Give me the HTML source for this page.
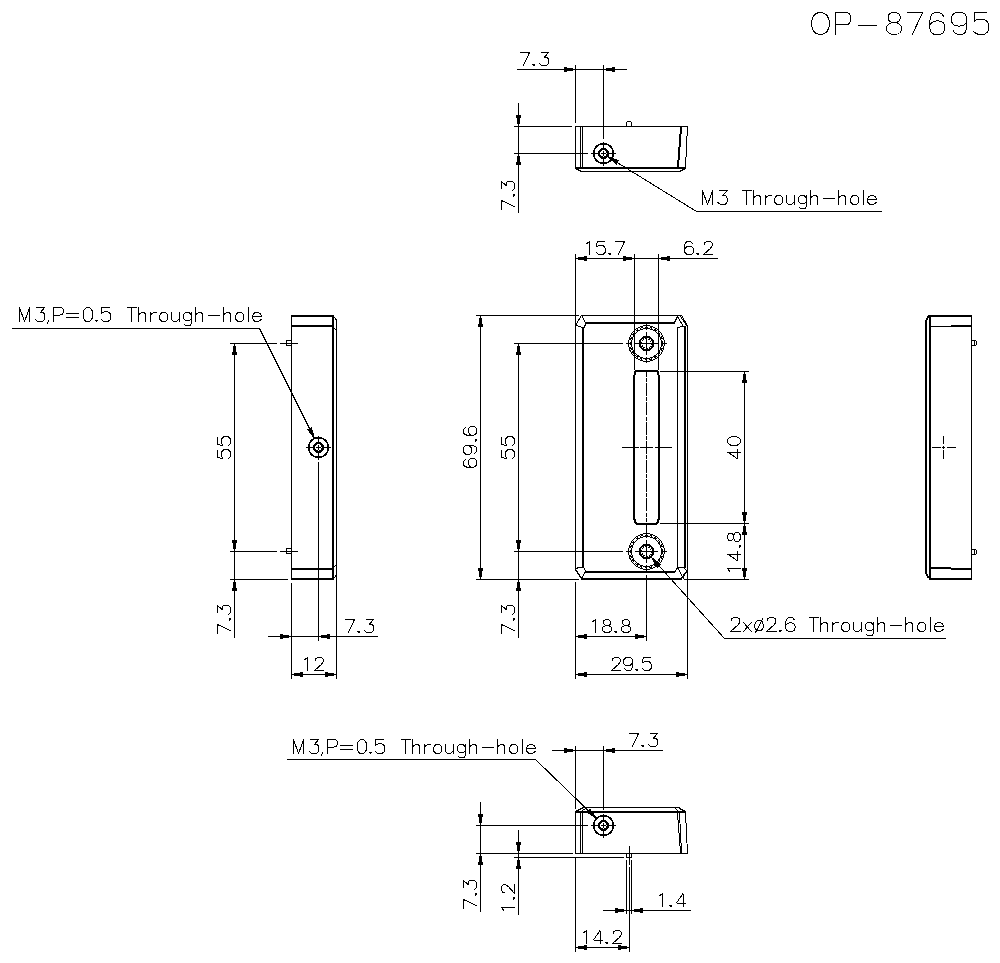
<!DOCTYPE html>
<html><head><meta charset="utf-8"><title>OP-87695</title>
<style>
html,body{margin:0;padding:0;background:#fff;width:1000px;height:963px;overflow:hidden;font-family:"Liberation Sans",sans-serif;}
svg{display:block;}
.f{fill:#000;stroke:none;}
</style></head>
<body>
<svg width="1000" height="963" viewBox="0 0 1000 963" shape-rendering="crispEdges">
<rect width="1000" height="963" fill="#fff"/>
<g fill="#000" stroke="#000" stroke-linecap="butt" stroke-linejoin="miter">
<g stroke="none">
</g>
</g>
<g fill="none" stroke="#000" stroke-width="1" stroke-linecap="round" stroke-linejoin="round" vector-effect="non-scaling-stroke">
<path d="M5.3,0 C8.8,0 10.6,3 10.6,6.5 C10.6,10 8.8,13 5.3,13 C1.8,13 0,10 0,6.5 C0,3 1.8,0 5.3,0 Z" transform="translate(811.50,12.50) scale(1.6923)" vector-effect="non-scaling-stroke"/>
<path d="M0,13 L0,0 L5.8,0 C8,0 9.1,1.3 9.1,3.6 C9.1,5.9 8,7.3 5.8,7.3 L0,7.3" transform="translate(835.50,12.50) scale(1.6923)" vector-effect="non-scaling-stroke"/>
<path d="M0.5,7.5 L11.5,7.5" transform="translate(857.50,12.50) scale(1.6923)" vector-effect="non-scaling-stroke"/>
<path d="M4.5,0 C6.7,0 8.1,1.2 8.1,3 C8.1,4.8 6.7,6 4.5,6 C2.3,6 0.9,4.8 0.9,3 C0.9,1.2 2.3,0 4.5,0 Z M4.5,6 C7.2,6 9,7.4 9,9.5 C9,11.6 7.2,13 4.5,13 C1.8,13 0,11.6 0,9.5 C0,7.4 1.8,6 4.5,6 Z" transform="translate(886.50,12.50) scale(1.6923)" vector-effect="non-scaling-stroke"/>
<path d="M0,0 L9,0 L2.8,13" transform="translate(907.50,12.50) scale(1.6923)" vector-effect="non-scaling-stroke"/>
<path d="M8.2,2.2 C7.6,0.7 6.6,0 4.8,0 L3.8,0 C1.5,0 0.2,2 0.2,5.5 L0.2,9 C0.2,11.6 1.8,13 4.3,13 L5.1,13 C7.7,13 9,11.4 9,9 C9,6.6 7.6,5 5.3,5 L4.3,5 C2.2,5 0.8,6 0.2,7.8" transform="translate(929.50,12.50) scale(1.6923)" vector-effect="non-scaling-stroke"/>
<path d="M1.2,10.8 C1.8,12.3 2.8,13 4.5,13 L5.6,13 C7.8,13 9,11 9,7.5 L9,4 C9,1.4 7.5,0 5.1,0 L4.1,0 C1.5,0 0,1.6 0,4 C0,6.4 1.5,8 3.9,8 L5,8 C7,8 8.5,7 9,5.2" transform="translate(951.50,12.50) scale(1.6923)" vector-effect="non-scaling-stroke"/>
<path d="M7.8,0 L0.6,0 L0.3,5.6 M0.6,4.8 C1.8,4.2 3,4 4.6,4 C7.6,4 9,5.8 9,8.5 C9,11.3 7.4,13 4.8,13 L4,13 C2.2,13 1,12.4 0.2,11.3" transform="translate(973.50,12.50) scale(1.6923)" vector-effect="non-scaling-stroke"/>
<rect x="517" y="69" width="110" height="1" class="f"/>
<rect x="564" y="67" width="3" height="5" class="f"/>
<rect x="567" y="68" width="6" height="3" class="f"/>
<rect x="612" y="67" width="3" height="5" class="f"/>
<rect x="606" y="68" width="6" height="3" class="f"/>
<path d="M0,0 L9,0 L2.8,13" transform="translate(520.50,52.50) scale(1.0000)" vector-effect="non-scaling-stroke"/>
<path d="M0.5,12 L2.5,12 L1.5,13 Z" transform="translate(532.50,52.50) scale(1.0000)" fill="#000" vector-effect="non-scaling-stroke"/>
<path d="M1.8,0 L9,0 L5,4.7 L6.3,4.7 C8.2,4.7 9,6 9,8 L9,9.5 C9,11.8 7.6,13 5.6,13 L4,13 C2.2,13 1,12.3 0.2,11" transform="translate(539.50,52.50) scale(1.0000)" vector-effect="non-scaling-stroke"/>
<rect x="575" y="65" width="1" height="58" class="f"/>
<rect x="603" y="65" width="1" height="74" class="f"/>
<rect x="518" y="103" width="1" height="110" class="f"/>
<rect x="514" y="126" width="58" height="1" class="f"/>
<rect x="514" y="153" width="74" height="1" class="f"/>
<rect x="516" y="115" width="5" height="3" class="f"/>
<rect x="517" y="118" width="3" height="6" class="f"/>
<rect x="516" y="162" width="5" height="3" class="f"/>
<rect x="517" y="156" width="3" height="6" class="f"/>
<path d="M0,0 L9,0 L2.8,13" transform="translate(501.50,209.50) rotate(-90) scale(1.0000)" vector-effect="non-scaling-stroke"/>
<path d="M0.5,12 L2.5,12 L1.5,13 Z" transform="translate(501.50,196.50) rotate(-90) scale(1.0000)" fill="#000" vector-effect="non-scaling-stroke"/>
<path d="M1.8,0 L9,0 L5,4.7 L6.3,4.7 C8.2,4.7 9,6 9,8 L9,9.5 C9,11.8 7.6,13 5.6,13 L4,13 C2.2,13 1,12.3 0.2,11" transform="translate(501.50,190.50) rotate(-90) scale(1.0000)" vector-effect="non-scaling-stroke"/>
<rect x="575" y="126" width="113" height="1" class="f"/>
<rect x="575" y="126" width="1" height="43" class="f"/>
<rect x="580" y="127" width="1" height="41" class="f"/>
<rect x="582" y="127" width="1" height="41" class="f"/>
<rect x="575" y="167" width="111" height="2" class="f"/>
<rect x="581" y="171" width="99" height="1" class="f"/>
<line x1="575.50" y1="168.50" x2="581.50" y2="171.50" stroke-width="1" />
<line x1="679.50" y1="171.50" x2="685.50" y2="168.50" stroke-width="1" />
<line x1="687.50" y1="126.50" x2="685.50" y2="167.50" stroke-width="1" />
<line x1="680.50" y1="127.50" x2="677.50" y2="166.50" stroke-width="1" />
<line x1="681.50" y1="127.50" x2="678.50" y2="166.50" stroke-width="1" />
<path d="M626.5,126 L626.5,123.5 Q626.5,121.5 628.5,121.5 L629.5,121.5 Q631.5,121.5 631.5,123.5 L631.5,126" fill="none" stroke-width="1"/>
<circle cx="603.5" cy="153.5" r="9.9" stroke-width="1.6" />
<circle cx="603.5" cy="153.5" r="4.3" stroke-width="2.3" />
<rect x="591" y="153" width="8" height="1" class="f"/>
<rect x="608" y="153" width="8" height="1" class="f"/>
<rect x="603" y="142" width="1" height="7" class="f"/>
<rect x="603" y="158" width="1" height="8" class="f"/>
<rect x="601" y="153" width="5" height="1" class="f"/>
<rect x="603" y="151" width="1" height="5" class="f"/>
<polygon points="608.00,156.50 618.40,160.61 616.29,164.00" fill="#000" stroke="#000" stroke-width="1" stroke-linejoin="miter"/>
<line x1="607.50" y1="156.50" x2="696.50" y2="211.50" stroke-width="1" />
<rect x="696" y="211" width="186" height="1" class="f"/>
<path d="M0,13 L0,0 L4.7,13 L9.4,0 L9.4,13" transform="translate(702.50,190.50) scale(1.0769)" vector-effect="non-scaling-stroke"/>
<path d="M1.8,0 L9,0 L5,4.7 L6.3,4.7 C8.2,4.7 9,6 9,8 L9,9.5 C9,11.8 7.6,13 5.6,13 L4,13 C2.2,13 1,12.3 0.2,11" transform="translate(717.50,190.50) scale(1.0769)" vector-effect="non-scaling-stroke"/>
<path d="M0,0 L8.6,0 M4,0 L4,13" transform="translate(742.50,190.50) scale(1.0769)" vector-effect="non-scaling-stroke"/>
<path d="M0,0 L0,13 M0,7.2 C0.9,5.5 2.2,4.6 3.8,4.6 C5.8,4.6 6.6,5.8 6.6,7.6 L6.6,13" transform="translate(753.50,190.50) scale(1.0769)" vector-effect="non-scaling-stroke"/>
<path d="M0,4.6 L0,13 M0,7.2 C1,5.4 2.4,4.6 5.3,4.6" transform="translate(765.50,190.50) scale(1.0769)" vector-effect="non-scaling-stroke"/>
<path d="M3.9,4.6 C6.4,4.6 7.8,6.3 7.8,8.8 C7.8,11.3 6.4,13 3.9,13 C1.4,13 0,11.3 0,8.8 C0,6.3 1.4,4.6 3.9,4.6 Z" transform="translate(774.50,190.50) scale(1.0769)" vector-effect="non-scaling-stroke"/>
<path d="M0,4.6 L0,10.2 C0,12 1,13 3,13 C4.8,13 6.2,12.2 7.1,10.6 M7.1,4.6 L7.1,13" transform="translate(786.50,190.50) scale(1.0769)" vector-effect="non-scaling-stroke"/>
<path d="M7.1,4.6 L7.1,14.8 C7.1,16.4 6,17.1 4.2,17.1 C2.8,17.1 1.8,16.7 1,15.8 M7.1,6.6 C6.3,5.3 5.2,4.6 3.7,4.6 C1.4,4.6 0,6.2 0,8.5 C0,10.8 1.4,12.4 3.7,12.4 C5.2,12.4 6.3,11.7 7.1,10.4" transform="translate(798.50,190.50) scale(1.0769)" vector-effect="non-scaling-stroke"/>
<path d="M0,0 L0,13 M0,7.2 C0.9,5.5 2.2,4.6 3.8,4.6 C5.8,4.6 6.6,5.8 6.6,7.6 L6.6,13" transform="translate(810.50,190.50) scale(1.0769)" vector-effect="non-scaling-stroke"/>
<path d="M0.5,7.5 L11.5,7.5" transform="translate(822.50,190.50) scale(1.0769)" vector-effect="non-scaling-stroke"/>
<path d="M0,0 L0,13 M0,7.2 C0.9,5.5 2.2,4.6 3.8,4.6 C5.8,4.6 6.6,5.8 6.6,7.6 L6.6,13" transform="translate(838.50,190.50) scale(1.0769)" vector-effect="non-scaling-stroke"/>
<path d="M3.9,4.6 C6.4,4.6 7.8,6.3 7.8,8.8 C7.8,11.3 6.4,13 3.9,13 C1.4,13 0,11.3 0,8.8 C0,6.3 1.4,4.6 3.9,4.6 Z" transform="translate(850.50,190.50) scale(1.0769)" vector-effect="non-scaling-stroke"/>
<path d="M0,0 L0,13" transform="translate(863.50,190.50) scale(1.0769)" vector-effect="non-scaling-stroke"/>
<path d="M0.1,8.8 L8.1,8.8 C8.1,6.2 6.6,4.6 4.1,4.6 C1.5,4.6 0,6.4 0,8.8 C0,11.3 1.5,13 4.1,13 C6,13 7.2,12.3 8,11" transform="translate(867.50,190.50) scale(1.0769)" vector-effect="non-scaling-stroke"/>
<path d="M0,13 L0,0 L4.7,13 L9.4,0 L9.4,13" transform="translate(19.50,307.50) scale(1.0769)" vector-effect="non-scaling-stroke"/>
<path d="M1.8,0 L9,0 L5,4.7 L6.3,4.7 C8.2,4.7 9,6 9,8 L9,9.5 C9,11.8 7.6,13 5.6,13 L4,13 C2.2,13 1,12.3 0.2,11" transform="translate(35.00,307.50) scale(1.0769)" vector-effect="non-scaling-stroke"/>
<path d="M2.4,11.8 L2.4,13 L1,15" transform="translate(46.00,307.50) scale(1.0769)" vector-effect="non-scaling-stroke"/>
<path d="M0,13 L0,0 L5.8,0 C8,0 9.2,1.3 9.2,3.5 C9.2,5.7 8,7 5.8,7 L0,7" transform="translate(53.50,307.50) scale(1.0769)" vector-effect="non-scaling-stroke"/>
<path d="M0,5.5 L11,5.5 M0,9.3 L11,9.3" transform="translate(66.50,307.50) scale(1.0769)" vector-effect="non-scaling-stroke"/>
<path d="M4.5,0 C7.6,0 9,3 9,6.5 C9,10 7.6,13 4.5,13 C1.4,13 0,10 0,6.5 C0,3 1.4,0 4.5,0 Z" transform="translate(83.00,307.50) scale(1.0769)" vector-effect="non-scaling-stroke"/>
<path d="M0.5,12 L2.5,12 L1.5,13 Z" transform="translate(95.00,307.50) scale(1.0769)" fill="#000" vector-effect="non-scaling-stroke"/>
<path d="M7.8,0 L0.6,0 L0.3,5.6 M0.6,4.8 C1.8,4.2 3,4 4.6,4 C7.6,4 9,5.8 9,8.5 C9,11.3 7.4,13 4.8,13 L4,13 C2.2,13 1,12.4 0.2,11.3" transform="translate(101.20,307.50) scale(1.0769)" vector-effect="non-scaling-stroke"/>
<path d="M0,0 L8.6,0 M4,0 L4,13" transform="translate(127.50,307.50) scale(1.0769)" vector-effect="non-scaling-stroke"/>
<path d="M0,0 L0,13 M0,7.2 C0.9,5.5 2.2,4.6 3.8,4.6 C5.8,4.6 6.6,5.8 6.6,7.6 L6.6,13" transform="translate(138.50,307.50) scale(1.0769)" vector-effect="non-scaling-stroke"/>
<path d="M0,4.6 L0,13 M0,7.2 C1,5.4 2.4,4.6 5.3,4.6" transform="translate(150.50,307.50) scale(1.0769)" vector-effect="non-scaling-stroke"/>
<path d="M3.9,4.6 C6.4,4.6 7.8,6.3 7.8,8.8 C7.8,11.3 6.4,13 3.9,13 C1.4,13 0,11.3 0,8.8 C0,6.3 1.4,4.6 3.9,4.6 Z" transform="translate(159.50,307.50) scale(1.0769)" vector-effect="non-scaling-stroke"/>
<path d="M0,4.6 L0,10.2 C0,12 1,13 3,13 C4.8,13 6.2,12.2 7.1,10.6 M7.1,4.6 L7.1,13" transform="translate(171.50,307.50) scale(1.0769)" vector-effect="non-scaling-stroke"/>
<path d="M7.1,4.6 L7.1,14.8 C7.1,16.4 6,17.1 4.2,17.1 C2.8,17.1 1.8,16.7 1,15.8 M7.1,6.6 C6.3,5.3 5.2,4.6 3.7,4.6 C1.4,4.6 0,6.2 0,8.5 C0,10.8 1.4,12.4 3.7,12.4 C5.2,12.4 6.3,11.7 7.1,10.4" transform="translate(183.50,307.50) scale(1.0769)" vector-effect="non-scaling-stroke"/>
<path d="M0,0 L0,13 M0,7.2 C0.9,5.5 2.2,4.6 3.8,4.6 C5.8,4.6 6.6,5.8 6.6,7.6 L6.6,13" transform="translate(195.50,307.50) scale(1.0769)" vector-effect="non-scaling-stroke"/>
<path d="M0.5,7.5 L11.5,7.5" transform="translate(207.50,307.50) scale(1.0769)" vector-effect="non-scaling-stroke"/>
<path d="M0,0 L0,13 M0,7.2 C0.9,5.5 2.2,4.6 3.8,4.6 C5.8,4.6 6.6,5.8 6.6,7.6 L6.6,13" transform="translate(223.50,307.50) scale(1.0769)" vector-effect="non-scaling-stroke"/>
<path d="M3.9,4.6 C6.4,4.6 7.8,6.3 7.8,8.8 C7.8,11.3 6.4,13 3.9,13 C1.4,13 0,11.3 0,8.8 C0,6.3 1.4,4.6 3.9,4.6 Z" transform="translate(235.50,307.50) scale(1.0769)" vector-effect="non-scaling-stroke"/>
<path d="M0,0 L0,13" transform="translate(248.50,307.50) scale(1.0769)" vector-effect="non-scaling-stroke"/>
<path d="M0.1,8.8 L8.1,8.8 C8.1,6.2 6.6,4.6 4.1,4.6 C1.5,4.6 0,6.4 0,8.8 C0,11.3 1.5,13 4.1,13 C6,13 7.2,12.3 8,11" transform="translate(252.50,307.50) scale(1.0769)" vector-effect="non-scaling-stroke"/>
<rect x="12" y="328" width="248" height="1" class="f"/>
<line x1="259.50" y1="328.50" x2="314.50" y2="438.50" stroke-width="1" />
<polygon points="314.50,438.50 307.79,429.56 311.37,427.77" fill="#000" stroke="#000" stroke-width="1" stroke-linejoin="miter"/>
<rect x="291" y="315" width="1" height="265" class="f"/>
<rect x="291" y="315" width="43" height="2" class="f"/>
<rect x="291" y="325" width="41" height="2" class="f"/>
<rect x="332" y="315" width="2" height="265" class="f"/>
<rect x="291" y="568" width="41" height="2" class="f"/>
<rect x="291" y="578" width="43" height="2" class="f"/>
<rect x="336" y="322" width="1" height="252" class="f"/>
<path d="M333.5,316.5 Q336.5,318 336.5,322.5 M336.5,572.5 Q336.5,577 333.5,578.5" fill="none" stroke-width="1"/>
<polyline points="333.50,327.50 335.50,329.50" stroke-width="1" />
<polyline points="333.50,567.50 335.50,565.50" stroke-width="1" />
<rect x="286.5" y="340.5" width="4.5" height="5" fill="none" stroke-width="1"/>
<rect x="286" y="340" width="1" height="6" class="f"/>
<rect x="286.5" y="548.5" width="4.5" height="5" fill="none" stroke-width="1"/>
<rect x="286" y="548" width="1" height="6" class="f"/>
<rect x="230" y="343" width="47" height="1" class="f"/>
<rect x="280" y="343" width="18" height="1" class="f"/>
<rect x="230" y="551" width="47" height="1" class="f"/>
<rect x="280" y="551" width="18" height="1" class="f"/>
<rect x="230" y="579" width="58" height="1" class="f"/>
<rect x="234" y="343" width="1" height="295" class="f"/>
<rect x="232" y="352" width="5" height="3" class="f"/>
<rect x="233" y="346" width="3" height="6" class="f"/>
<rect x="232" y="540" width="5" height="3" class="f"/>
<rect x="233" y="543" width="3" height="6" class="f"/>
<rect x="232" y="588" width="5" height="3" class="f"/>
<rect x="233" y="582" width="3" height="6" class="f"/>
<path d="M7.8,0 L0.6,0 L0.3,5.6 M0.6,4.8 C1.8,4.2 3,4 4.6,4 C7.6,4 9,5.8 9,8.5 C9,11.3 7.4,13 4.8,13 L4,13 C2.2,13 1,12.4 0.2,11.3" transform="translate(217.50,458.50) rotate(-90) scale(1.0000)" vector-effect="non-scaling-stroke"/>
<path d="M7.8,0 L0.6,0 L0.3,5.6 M0.6,4.8 C1.8,4.2 3,4 4.6,4 C7.6,4 9,5.8 9,8.5 C9,11.3 7.4,13 4.8,13 L4,13 C2.2,13 1,12.4 0.2,11.3" transform="translate(217.50,445.50) rotate(-90) scale(1.0000)" vector-effect="non-scaling-stroke"/>
<path d="M0,0 L9,0 L2.8,13" transform="translate(217.50,633.50) rotate(-90) scale(1.0000)" vector-effect="non-scaling-stroke"/>
<path d="M0.5,12 L2.5,12 L1.5,13 Z" transform="translate(217.50,620.50) rotate(-90) scale(1.0000)" fill="#000" vector-effect="non-scaling-stroke"/>
<path d="M1.8,0 L9,0 L5,4.7 L6.3,4.7 C8.2,4.7 9,6 9,8 L9,9.5 C9,11.8 7.6,13 5.6,13 L4,13 C2.2,13 1,12.3 0.2,11" transform="translate(217.50,614.50) rotate(-90) scale(1.0000)" vector-effect="non-scaling-stroke"/>
<circle cx="318.5" cy="447.5" r="9.9" stroke-width="1.6" />
<circle cx="318.5" cy="447.5" r="4.3" stroke-width="2.3" />
<rect x="306" y="447" width="8" height="1" class="f"/>
<rect x="323" y="447" width="8" height="1" class="f"/>
<rect x="318" y="436" width="1" height="7" class="f"/>
<rect x="318" y="452" width="1" height="8" class="f"/>
<rect x="316" y="447" width="5" height="1" class="f"/>
<rect x="318" y="445" width="1" height="5" class="f"/>
<rect x="318" y="462" width="1" height="179" class="f"/>
<rect x="291" y="583" width="1" height="96" class="f"/>
<rect x="336" y="575" width="1" height="104" class="f"/>
<rect x="268" y="636" width="110" height="1" class="f"/>
<rect x="280" y="634" width="3" height="5" class="f"/>
<rect x="283" y="635" width="6" height="3" class="f"/>
<rect x="327" y="634" width="3" height="5" class="f"/>
<rect x="321" y="635" width="6" height="3" class="f"/>
<path d="M0,0 L9,0 L2.8,13" transform="translate(345.50,619.50) scale(1.0000)" vector-effect="non-scaling-stroke"/>
<path d="M0.5,12 L2.5,12 L1.5,13 Z" transform="translate(357.50,619.50) scale(1.0000)" fill="#000" vector-effect="non-scaling-stroke"/>
<path d="M1.8,0 L9,0 L5,4.7 L6.3,4.7 C8.2,4.7 9,6 9,8 L9,9.5 C9,11.8 7.6,13 5.6,13 L4,13 C2.2,13 1,12.3 0.2,11" transform="translate(364.50,619.50) scale(1.0000)" vector-effect="non-scaling-stroke"/>
<rect x="291" y="674" width="46" height="1" class="f"/>
<rect x="300" y="672" width="3" height="5" class="f"/>
<rect x="294" y="673" width="6" height="3" class="f"/>
<rect x="325" y="672" width="3" height="5" class="f"/>
<rect x="328" y="673" width="6" height="3" class="f"/>
<path d="M2,2.2 L5,0 L5,13" transform="translate(302.50,657.50) scale(1.0000)" vector-effect="non-scaling-stroke"/>
<path d="M0.6,3 C0.8,1.2 2.3,0 4.3,0 L5.2,0 C7.4,0 8.8,1.3 8.8,3.3 C8.8,4.8 8,5.8 6.6,7.2 L0.1,13 L9,13" transform="translate(314.50,657.50) scale(1.0000)" vector-effect="non-scaling-stroke"/>
<rect x="575" y="258" width="143" height="1" class="f"/>
<rect x="584" y="256" width="3" height="5" class="f"/>
<rect x="578" y="257" width="6" height="3" class="f"/>
<rect x="623" y="256" width="3" height="5" class="f"/>
<rect x="626" y="257" width="6" height="3" class="f"/>
<rect x="667" y="256" width="3" height="5" class="f"/>
<rect x="661" y="257" width="6" height="3" class="f"/>
<path d="M2,2.2 L5,0 L5,13" transform="translate(584.50,241.50) scale(1.0000)" vector-effect="non-scaling-stroke"/>
<path d="M7.8,0 L0.6,0 L0.3,5.6 M0.6,4.8 C1.8,4.2 3,4 4.6,4 C7.6,4 9,5.8 9,8.5 C9,11.3 7.4,13 4.8,13 L4,13 C2.2,13 1,12.4 0.2,11.3" transform="translate(596.50,241.50) scale(1.0000)" vector-effect="non-scaling-stroke"/>
<path d="M0.5,12 L2.5,12 L1.5,13 Z" transform="translate(608.50,241.50) scale(1.0000)" fill="#000" vector-effect="non-scaling-stroke"/>
<path d="M0,0 L9,0 L2.8,13" transform="translate(615.50,241.50) scale(1.0000)" vector-effect="non-scaling-stroke"/>
<path d="M8.2,2.2 C7.6,0.7 6.6,0 4.8,0 L3.8,0 C1.5,0 0.2,2 0.2,5.5 L0.2,9 C0.2,11.6 1.8,13 4.3,13 L5.1,13 C7.7,13 9,11.4 9,9 C9,6.6 7.6,5 5.3,5 L4.3,5 C2.2,5 0.8,6 0.2,7.8" transform="translate(684.50,241.50) scale(1.0000)" vector-effect="non-scaling-stroke"/>
<path d="M0.5,12 L2.5,12 L1.5,13 Z" transform="translate(696.50,241.50) scale(1.0000)" fill="#000" vector-effect="non-scaling-stroke"/>
<path d="M0.6,3 C0.8,1.2 2.3,0 4.3,0 L5.2,0 C7.4,0 8.8,1.3 8.8,3.3 C8.8,4.8 8,5.8 6.6,7.2 L0.1,13 L9,13" transform="translate(703.50,241.50) scale(1.0000)" vector-effect="non-scaling-stroke"/>
<rect x="575" y="254" width="1" height="70" class="f"/>
<rect x="634" y="254" width="1" height="116" class="f"/>
<rect x="658" y="254" width="1" height="116" class="f"/>
<rect x="480" y="315" width="1" height="265" class="f"/>
<rect x="476" y="315" width="103" height="1" class="f"/>
<rect x="476" y="579" width="103" height="1" class="f"/>
<rect x="478" y="324" width="5" height="3" class="f"/>
<rect x="479" y="318" width="3" height="6" class="f"/>
<rect x="478" y="568" width="5" height="3" class="f"/>
<rect x="479" y="571" width="3" height="6" class="f"/>
<path d="M8.2,2.2 C7.6,0.7 6.6,0 4.8,0 L3.8,0 C1.5,0 0.2,2 0.2,5.5 L0.2,9 C0.2,11.6 1.8,13 4.3,13 L5.1,13 C7.7,13 9,11.4 9,9 C9,6.6 7.6,5 5.3,5 L4.3,5 C2.2,5 0.8,6 0.2,7.8" transform="translate(463.50,467.50) rotate(-90) scale(1.0000)" vector-effect="non-scaling-stroke"/>
<path d="M1.2,10.8 C1.8,12.3 2.8,13 4.5,13 L5.6,13 C7.8,13 9,11 9,7.5 L9,4 C9,1.4 7.5,0 5.1,0 L4.1,0 C1.5,0 0,1.6 0,4 C0,6.4 1.5,8 3.9,8 L5,8 C7,8 8.5,7 9,5.2" transform="translate(463.50,454.50) rotate(-90) scale(1.0000)" vector-effect="non-scaling-stroke"/>
<path d="M0.5,12 L2.5,12 L1.5,13 Z" transform="translate(463.50,441.50) rotate(-90) scale(1.0000)" fill="#000" vector-effect="non-scaling-stroke"/>
<path d="M8.2,2.2 C7.6,0.7 6.6,0 4.8,0 L3.8,0 C1.5,0 0.2,2 0.2,5.5 L0.2,9 C0.2,11.6 1.8,13 4.3,13 L5.1,13 C7.7,13 9,11.4 9,9 C9,6.6 7.6,5 5.3,5 L4.3,5 C2.2,5 0.8,6 0.2,7.8" transform="translate(463.50,435.50) rotate(-90) scale(1.0000)" vector-effect="non-scaling-stroke"/>
<rect x="518" y="343" width="1" height="295" class="f"/>
<rect x="514" y="343" width="109" height="1" class="f"/>
<rect x="514" y="551" width="109" height="1" class="f"/>
<rect x="516" y="352" width="5" height="3" class="f"/>
<rect x="517" y="346" width="3" height="6" class="f"/>
<rect x="516" y="540" width="5" height="3" class="f"/>
<rect x="517" y="543" width="3" height="6" class="f"/>
<rect x="516" y="588" width="5" height="3" class="f"/>
<rect x="517" y="582" width="3" height="6" class="f"/>
<path d="M7.8,0 L0.6,0 L0.3,5.6 M0.6,4.8 C1.8,4.2 3,4 4.6,4 C7.6,4 9,5.8 9,8.5 C9,11.3 7.4,13 4.8,13 L4,13 C2.2,13 1,12.4 0.2,11.3" transform="translate(501.50,458.50) rotate(-90) scale(1.0000)" vector-effect="non-scaling-stroke"/>
<path d="M7.8,0 L0.6,0 L0.3,5.6 M0.6,4.8 C1.8,4.2 3,4 4.6,4 C7.6,4 9,5.8 9,8.5 C9,11.3 7.4,13 4.8,13 L4,13 C2.2,13 1,12.4 0.2,11.3" transform="translate(501.50,445.50) rotate(-90) scale(1.0000)" vector-effect="non-scaling-stroke"/>
<path d="M0,0 L9,0 L2.8,13" transform="translate(501.50,633.50) rotate(-90) scale(1.0000)" vector-effect="non-scaling-stroke"/>
<path d="M0.5,12 L2.5,12 L1.5,13 Z" transform="translate(501.50,620.50) rotate(-90) scale(1.0000)" fill="#000" vector-effect="non-scaling-stroke"/>
<path d="M1.8,0 L9,0 L5,4.7 L6.3,4.7 C8.2,4.7 9,6 9,8 L9,9.5 C9,11.8 7.6,13 5.6,13 L4,13 C2.2,13 1,12.3 0.2,11" transform="translate(501.50,614.50) rotate(-90) scale(1.0000)" vector-effect="non-scaling-stroke"/>
<rect x="575" y="325" width="1" height="245" class="f"/>
<rect x="581" y="315" width="101" height="1" class="f"/>
<rect x="687" y="325" width="1" height="246" class="f"/>
<rect x="581" y="578" width="101" height="2" class="f"/>
<line x1="575.50" y1="325.50" x2="581.50" y2="315.50" stroke-width="1" />
<line x1="681.50" y1="315.50" x2="687.50" y2="325.50" stroke-width="1" />
<line x1="575.50" y1="569.50" x2="581.50" y2="578.50" stroke-width="1.6" />
<line x1="687.50" y1="570.50" x2="681.50" y2="578.50" stroke-width="1.6" />
<rect x="582" y="327" width="2" height="241" class="f"/>
<rect x="585" y="322" width="90" height="2" class="f"/>
<rect x="585" y="571" width="90" height="2" class="f"/>
<rect x="677" y="328" width="1" height="239" class="f"/>
<rect x="684" y="326" width="2" height="242" class="f"/>
<polyline points="576.50,325.50 582.50,327.50 584.50,327.50 585.50,323.50 582.50,316.50" stroke-width="1" />
<polyline points="674.50,322.50 677.50,316.50" stroke-width="1" />
<polyline points="677.50,316.50 683.50,326.50" stroke-width="1" />
<polyline points="680.50,316.50 686.50,325.50" stroke-width="1" />
<polyline points="677.50,327.50 683.50,326.50" stroke-width="1" />
<polyline points="575.50,568.50 579.50,567.50 583.50,567.50 585.50,570.50 584.50,573.50 581.50,578.50" stroke-width="1" />
<polyline points="674.50,572.50 677.50,567.50 683.50,567.50 686.50,570.50" stroke-width="1" />
<polyline points="677.50,567.50 683.50,578.50" stroke-width="1" />
<circle cx="646.5" cy="343.5" r="17.8" stroke-width="1" />
<circle cx="646.5" cy="343.5" r="16.3" stroke-width="1" stroke-dasharray="2 3"/>
<circle cx="646.5" cy="343.5" r="14.9" stroke-width="1" />
<circle cx="646.5" cy="343.5" r="6.9" stroke-width="2.0" />
<circle cx="646.5" cy="343.5" r="4.8" stroke-width="1" stroke-dasharray="1 2"/>
<rect x="626" y="343" width="6" height="1" class="f"/>
<rect x="635" y="343" width="23" height="1" class="f"/>
<rect x="661" y="343" width="6" height="1" class="f"/>
<rect x="646" y="324" width="1" height="6" class="f"/>
<rect x="646" y="332" width="1" height="23" class="f"/>
<rect x="646" y="357" width="1" height="6" class="f"/>
<circle cx="646.5" cy="551.5" r="17.8" stroke-width="1" />
<circle cx="646.5" cy="551.5" r="16.3" stroke-width="1" stroke-dasharray="2 3"/>
<circle cx="646.5" cy="551.5" r="14.9" stroke-width="1" />
<circle cx="646.5" cy="551.5" r="6.9" stroke-width="2.0" />
<circle cx="646.5" cy="551.5" r="4.8" stroke-width="1" stroke-dasharray="1 2"/>
<rect x="626" y="551" width="6" height="1" class="f"/>
<rect x="635" y="551" width="23" height="1" class="f"/>
<rect x="661" y="551" width="6" height="1" class="f"/>
<rect x="646" y="532" width="1" height="6" class="f"/>
<rect x="646" y="540" width="1" height="23" class="f"/>
<rect x="646" y="565" width="1" height="6" class="f"/>
<rect x="633" y="375" width="2" height="145" class="f"/>
<rect x="658" y="375" width="2" height="145" class="f"/>
<rect x="636" y="370" width="21" height="2" class="f"/>
<rect x="638" y="523" width="18" height="2" class="f"/>
<path d="M634.5,375 Q634.5,371 637,370.5 M656,370.5 Q658.5,371 658.5,375 M634.5,519 Q634.5,524 639,524 M655,524 Q658.5,524 658.5,519" fill="none" stroke-width="2"/>
<line x1="646.5" y1="372" x2="646.5" y2="522" stroke-width="1" stroke-linecap="butt" stroke-dasharray="13 1.2 4 1" stroke-dashoffset="8"/>
<rect x="622" y="447" width="17" height="1" class="f"/>
<rect x="640" y="447" width="13" height="1" class="f"/>
<rect x="655" y="447" width="17" height="1" class="f"/>
<rect x="660" y="371" width="89" height="1" class="f"/>
<rect x="660" y="523" width="89" height="1" class="f"/>
<rect x="684" y="579" width="65" height="1" class="f"/>
<rect x="646" y="524" width="1" height="10" class="f"/>
<rect x="744" y="371" width="1" height="209" class="f"/>
<rect x="742" y="380" width="5" height="3" class="f"/>
<rect x="743" y="374" width="3" height="6" class="f"/>
<rect x="742" y="512" width="5" height="3" class="f"/>
<rect x="743" y="515" width="3" height="6" class="f"/>
<rect x="742" y="532" width="5" height="3" class="f"/>
<rect x="743" y="526" width="3" height="6" class="f"/>
<rect x="742" y="568" width="5" height="3" class="f"/>
<rect x="743" y="571" width="3" height="6" class="f"/>
<path d="M6.5,13 L6.5,0 L0,9.5 L9.2,9.5" transform="translate(727.50,458.50) rotate(-90) scale(1.0000)" vector-effect="non-scaling-stroke"/>
<path d="M4.5,0 C7.6,0 9,3 9,6.5 C9,10 7.6,13 4.5,13 C1.4,13 0,10 0,6.5 C0,3 1.4,0 4.5,0 Z" transform="translate(727.50,445.50) rotate(-90) scale(1.0000)" vector-effect="non-scaling-stroke"/>
<path d="M2,2.2 L5,0 L5,13" transform="translate(727.50,573.50) rotate(-90) scale(1.0000)" vector-effect="non-scaling-stroke"/>
<path d="M6.5,13 L6.5,0 L0,9.5 L9.2,9.5" transform="translate(727.50,560.50) rotate(-90) scale(1.0000)" vector-effect="non-scaling-stroke"/>
<path d="M0.5,12 L2.5,12 L1.5,13 Z" transform="translate(727.50,547.50) rotate(-90) scale(1.0000)" fill="#000" vector-effect="non-scaling-stroke"/>
<path d="M4.5,0 C6.7,0 8.1,1.2 8.1,3 C8.1,4.8 6.7,6 4.5,6 C2.3,6 0.9,4.8 0.9,3 C0.9,1.2 2.3,0 4.5,0 Z M4.5,6 C7.2,6 9,7.4 9,9.5 C9,11.6 7.2,13 4.5,13 C1.8,13 0,11.6 0,9.5 C0,7.4 1.8,6 4.5,6 Z" transform="translate(727.50,541.50) rotate(-90) scale(1.0000)" vector-effect="non-scaling-stroke"/>
<rect x="575" y="582" width="1" height="97" class="f"/>
<rect x="646" y="575" width="1" height="66" class="f"/>
<rect x="646" y="570" width="1" height="2" class="f"/>
<rect x="687" y="572" width="1" height="107" class="f"/>
<rect x="575" y="636" width="72" height="1" class="f"/>
<rect x="584" y="634" width="3" height="5" class="f"/>
<rect x="578" y="635" width="6" height="3" class="f"/>
<rect x="635" y="634" width="3" height="5" class="f"/>
<rect x="638" y="635" width="6" height="3" class="f"/>
<path d="M2,2.2 L5,0 L5,13" transform="translate(590.50,619.50) scale(1.0000)" vector-effect="non-scaling-stroke"/>
<path d="M4.5,0 C6.7,0 8.1,1.2 8.1,3 C8.1,4.8 6.7,6 4.5,6 C2.3,6 0.9,4.8 0.9,3 C0.9,1.2 2.3,0 4.5,0 Z M4.5,6 C7.2,6 9,7.4 9,9.5 C9,11.6 7.2,13 4.5,13 C1.8,13 0,11.6 0,9.5 C0,7.4 1.8,6 4.5,6 Z" transform="translate(602.50,619.50) scale(1.0000)" vector-effect="non-scaling-stroke"/>
<path d="M0.5,12 L2.5,12 L1.5,13 Z" transform="translate(614.50,619.50) scale(1.0000)" fill="#000" vector-effect="non-scaling-stroke"/>
<path d="M4.5,0 C6.7,0 8.1,1.2 8.1,3 C8.1,4.8 6.7,6 4.5,6 C2.3,6 0.9,4.8 0.9,3 C0.9,1.2 2.3,0 4.5,0 Z M4.5,6 C7.2,6 9,7.4 9,9.5 C9,11.6 7.2,13 4.5,13 C1.8,13 0,11.6 0,9.5 C0,7.4 1.8,6 4.5,6 Z" transform="translate(621.50,619.50) scale(1.0000)" vector-effect="non-scaling-stroke"/>
<rect x="575" y="674" width="113" height="1" class="f"/>
<rect x="584" y="672" width="3" height="5" class="f"/>
<rect x="578" y="673" width="6" height="3" class="f"/>
<rect x="676" y="672" width="3" height="5" class="f"/>
<rect x="679" y="673" width="6" height="3" class="f"/>
<path d="M0.6,3 C0.8,1.2 2.3,0 4.3,0 L5.2,0 C7.4,0 8.8,1.3 8.8,3.3 C8.8,4.8 8,5.8 6.6,7.2 L0.1,13 L9,13" transform="translate(611.50,657.50) scale(1.0000)" vector-effect="non-scaling-stroke"/>
<path d="M1.2,10.8 C1.8,12.3 2.8,13 4.5,13 L5.6,13 C7.8,13 9,11 9,7.5 L9,4 C9,1.4 7.5,0 5.1,0 L4.1,0 C1.5,0 0,1.6 0,4 C0,6.4 1.5,8 3.9,8 L5,8 C7,8 8.5,7 9,5.2" transform="translate(623.50,657.50) scale(1.0000)" vector-effect="non-scaling-stroke"/>
<path d="M0.5,12 L2.5,12 L1.5,13 Z" transform="translate(635.50,657.50) scale(1.0000)" fill="#000" vector-effect="non-scaling-stroke"/>
<path d="M7.8,0 L0.6,0 L0.3,5.6 M0.6,4.8 C1.8,4.2 3,4 4.6,4 C7.6,4 9,5.8 9,8.5 C9,11.3 7.4,13 4.8,13 L4,13 C2.2,13 1,12.4 0.2,11.3" transform="translate(642.50,657.50) scale(1.0000)" vector-effect="non-scaling-stroke"/>
<line x1="651.50" y1="557.50" x2="724.50" y2="638.50" stroke-width="1" />
<polygon points="651.50,557.50 660.35,564.33 657.38,567.01" fill="#000" stroke="#000" stroke-width="1" stroke-linejoin="miter"/>
<rect x="724" y="638" width="222" height="1" class="f"/>
<path d="M0.6,3 C0.8,1.2 2.3,0 4.3,0 L5.2,0 C7.4,0 8.8,1.3 8.8,3.3 C8.8,4.8 8,5.8 6.6,7.2 L0.1,13 L9,13" transform="translate(730.50,617.50) scale(1.0769)" vector-effect="non-scaling-stroke"/>
<path d="M0,4.6 L7.3,13 M7.3,4.6 L0,13" transform="translate(743.50,617.50) scale(1.0769)" vector-effect="non-scaling-stroke"/>
<path d="M4.2,2.9 C6.7,2.9 8.2,5 8.2,7.6 C8.2,10.2 6.7,12.2 4.2,12.2 C1.7,12.2 0.2,10.2 0.2,7.6 C0.2,5 1.7,2.9 4.2,2.9 Z M1.1,13.6 L7.6,1.1" transform="translate(754.50,617.50) scale(1.0769)" vector-effect="non-scaling-stroke"/>
<path d="M0.6,3 C0.8,1.2 2.3,0 4.3,0 L5.2,0 C7.4,0 8.8,1.3 8.8,3.3 C8.8,4.8 8,5.8 6.6,7.2 L0.1,13 L9,13" transform="translate(766.50,617.50) scale(1.0769)" vector-effect="non-scaling-stroke"/>
<path d="M0.5,12 L2.5,12 L1.5,13 Z" transform="translate(778.50,617.50) scale(1.0769)" fill="#000" vector-effect="non-scaling-stroke"/>
<path d="M8.2,2.2 C7.6,0.7 6.6,0 4.8,0 L3.8,0 C1.5,0 0.2,2 0.2,5.5 L0.2,9 C0.2,11.6 1.8,13 4.3,13 L5.1,13 C7.7,13 9,11.4 9,9 C9,6.6 7.6,5 5.3,5 L4.3,5 C2.2,5 0.8,6 0.2,7.8" transform="translate(785.50,617.50) scale(1.0769)" vector-effect="non-scaling-stroke"/>
<path d="M0,0 L8.6,0 M4,0 L4,13" transform="translate(809.50,617.50) scale(1.0769)" vector-effect="non-scaling-stroke"/>
<path d="M0,0 L0,13 M0,7.2 C0.9,5.5 2.2,4.6 3.8,4.6 C5.8,4.6 6.6,5.8 6.6,7.6 L6.6,13" transform="translate(820.50,617.50) scale(1.0769)" vector-effect="non-scaling-stroke"/>
<path d="M0,4.6 L0,13 M0,7.2 C1,5.4 2.4,4.6 5.3,4.6" transform="translate(832.50,617.50) scale(1.0769)" vector-effect="non-scaling-stroke"/>
<path d="M3.9,4.6 C6.4,4.6 7.8,6.3 7.8,8.8 C7.8,11.3 6.4,13 3.9,13 C1.4,13 0,11.3 0,8.8 C0,6.3 1.4,4.6 3.9,4.6 Z" transform="translate(841.50,617.50) scale(1.0769)" vector-effect="non-scaling-stroke"/>
<path d="M0,4.6 L0,10.2 C0,12 1,13 3,13 C4.8,13 6.2,12.2 7.1,10.6 M7.1,4.6 L7.1,13" transform="translate(853.50,617.50) scale(1.0769)" vector-effect="non-scaling-stroke"/>
<path d="M7.1,4.6 L7.1,14.8 C7.1,16.4 6,17.1 4.2,17.1 C2.8,17.1 1.8,16.7 1,15.8 M7.1,6.6 C6.3,5.3 5.2,4.6 3.7,4.6 C1.4,4.6 0,6.2 0,8.5 C0,10.8 1.4,12.4 3.7,12.4 C5.2,12.4 6.3,11.7 7.1,10.4" transform="translate(865.50,617.50) scale(1.0769)" vector-effect="non-scaling-stroke"/>
<path d="M0,0 L0,13 M0,7.2 C0.9,5.5 2.2,4.6 3.8,4.6 C5.8,4.6 6.6,5.8 6.6,7.6 L6.6,13" transform="translate(877.50,617.50) scale(1.0769)" vector-effect="non-scaling-stroke"/>
<path d="M0.5,7.5 L11.5,7.5" transform="translate(889.50,617.50) scale(1.0769)" vector-effect="non-scaling-stroke"/>
<path d="M0,0 L0,13 M0,7.2 C0.9,5.5 2.2,4.6 3.8,4.6 C5.8,4.6 6.6,5.8 6.6,7.6 L6.6,13" transform="translate(905.50,617.50) scale(1.0769)" vector-effect="non-scaling-stroke"/>
<path d="M3.9,4.6 C6.4,4.6 7.8,6.3 7.8,8.8 C7.8,11.3 6.4,13 3.9,13 C1.4,13 0,11.3 0,8.8 C0,6.3 1.4,4.6 3.9,4.6 Z" transform="translate(917.50,617.50) scale(1.0769)" vector-effect="non-scaling-stroke"/>
<path d="M0,0 L0,13" transform="translate(930.50,617.50) scale(1.0769)" vector-effect="non-scaling-stroke"/>
<path d="M0.1,8.8 L8.1,8.8 C8.1,6.2 6.6,4.6 4.1,4.6 C1.5,4.6 0,6.4 0,8.8 C0,11.3 1.5,13 4.1,13 C6,13 7.2,12.3 8,11" transform="translate(934.50,617.50) scale(1.0769)" vector-effect="non-scaling-stroke"/>
<rect x="925" y="323" width="2" height="249" class="f"/>
<rect x="929" y="315" width="2" height="265" class="f"/>
<rect x="971" y="315" width="1" height="265" class="f"/>
<rect x="929" y="315" width="43" height="2" class="f"/>
<rect x="929" y="326" width="22" height="1" class="f"/>
<rect x="951" y="325" width="21" height="2" class="f"/>
<rect x="929" y="578" width="43" height="2" class="f"/>
<rect x="929" y="567" width="22" height="2" class="f"/>
<rect x="951" y="568" width="21" height="2" class="f"/>
<path d="M926,323 Q926.5,317.5 929.5,316 M926,571 Q926.5,576.5 929.5,578" fill="none" stroke-width="2"/>
<path d="M971.5,340.5 L975,340.5 Q976.5,340.5 976.5,343 Q976.5,345.5 975,345.5 L971.5,345.5" fill="none" stroke-width="1"/>
<rect x="974" y="340" width="1" height="6" class="f"/>
<path d="M971.5,549.5 L975,549.5 Q976.5,549.5 976.5,552 Q976.5,554.5 975,554.5 L971.5,554.5" fill="none" stroke-width="1"/>
<rect x="974" y="549" width="1" height="6" class="f"/>
<rect x="932" y="447" width="9" height="1" class="f"/>
<rect x="942" y="447" width="3" height="1" class="f"/>
<rect x="947" y="447" width="9" height="1" class="f"/>
<rect x="943" y="436" width="1" height="8" class="f"/>
<rect x="943" y="446" width="1" height="3" class="f"/>
<rect x="943" y="450" width="1" height="9" class="f"/>
<path d="M0,13 L0,0 L4.7,13 L9.4,0 L9.4,13" transform="translate(293.50,739.50) scale(1.0769)" vector-effect="non-scaling-stroke"/>
<path d="M1.8,0 L9,0 L5,4.7 L6.3,4.7 C8.2,4.7 9,6 9,8 L9,9.5 C9,11.8 7.6,13 5.6,13 L4,13 C2.2,13 1,12.3 0.2,11" transform="translate(309.00,739.50) scale(1.0769)" vector-effect="non-scaling-stroke"/>
<path d="M2.4,11.8 L2.4,13 L1,15" transform="translate(320.00,739.50) scale(1.0769)" vector-effect="non-scaling-stroke"/>
<path d="M0,13 L0,0 L5.8,0 C8,0 9.2,1.3 9.2,3.5 C9.2,5.7 8,7 5.8,7 L0,7" transform="translate(327.50,739.50) scale(1.0769)" vector-effect="non-scaling-stroke"/>
<path d="M0,5.5 L11,5.5 M0,9.3 L11,9.3" transform="translate(340.50,739.50) scale(1.0769)" vector-effect="non-scaling-stroke"/>
<path d="M4.5,0 C7.6,0 9,3 9,6.5 C9,10 7.6,13 4.5,13 C1.4,13 0,10 0,6.5 C0,3 1.4,0 4.5,0 Z" transform="translate(357.00,739.50) scale(1.0769)" vector-effect="non-scaling-stroke"/>
<path d="M0.5,12 L2.5,12 L1.5,13 Z" transform="translate(369.00,739.50) scale(1.0769)" fill="#000" vector-effect="non-scaling-stroke"/>
<path d="M7.8,0 L0.6,0 L0.3,5.6 M0.6,4.8 C1.8,4.2 3,4 4.6,4 C7.6,4 9,5.8 9,8.5 C9,11.3 7.4,13 4.8,13 L4,13 C2.2,13 1,12.4 0.2,11.3" transform="translate(375.20,739.50) scale(1.0769)" vector-effect="non-scaling-stroke"/>
<path d="M0,0 L8.6,0 M4,0 L4,13" transform="translate(401.50,739.50) scale(1.0769)" vector-effect="non-scaling-stroke"/>
<path d="M0,0 L0,13 M0,7.2 C0.9,5.5 2.2,4.6 3.8,4.6 C5.8,4.6 6.6,5.8 6.6,7.6 L6.6,13" transform="translate(412.50,739.50) scale(1.0769)" vector-effect="non-scaling-stroke"/>
<path d="M0,4.6 L0,13 M0,7.2 C1,5.4 2.4,4.6 5.3,4.6" transform="translate(424.50,739.50) scale(1.0769)" vector-effect="non-scaling-stroke"/>
<path d="M3.9,4.6 C6.4,4.6 7.8,6.3 7.8,8.8 C7.8,11.3 6.4,13 3.9,13 C1.4,13 0,11.3 0,8.8 C0,6.3 1.4,4.6 3.9,4.6 Z" transform="translate(433.50,739.50) scale(1.0769)" vector-effect="non-scaling-stroke"/>
<path d="M0,4.6 L0,10.2 C0,12 1,13 3,13 C4.8,13 6.2,12.2 7.1,10.6 M7.1,4.6 L7.1,13" transform="translate(445.50,739.50) scale(1.0769)" vector-effect="non-scaling-stroke"/>
<path d="M7.1,4.6 L7.1,14.8 C7.1,16.4 6,17.1 4.2,17.1 C2.8,17.1 1.8,16.7 1,15.8 M7.1,6.6 C6.3,5.3 5.2,4.6 3.7,4.6 C1.4,4.6 0,6.2 0,8.5 C0,10.8 1.4,12.4 3.7,12.4 C5.2,12.4 6.3,11.7 7.1,10.4" transform="translate(457.50,739.50) scale(1.0769)" vector-effect="non-scaling-stroke"/>
<path d="M0,0 L0,13 M0,7.2 C0.9,5.5 2.2,4.6 3.8,4.6 C5.8,4.6 6.6,5.8 6.6,7.6 L6.6,13" transform="translate(469.50,739.50) scale(1.0769)" vector-effect="non-scaling-stroke"/>
<path d="M0.5,7.5 L11.5,7.5" transform="translate(481.50,739.50) scale(1.0769)" vector-effect="non-scaling-stroke"/>
<path d="M0,0 L0,13 M0,7.2 C0.9,5.5 2.2,4.6 3.8,4.6 C5.8,4.6 6.6,5.8 6.6,7.6 L6.6,13" transform="translate(497.50,739.50) scale(1.0769)" vector-effect="non-scaling-stroke"/>
<path d="M3.9,4.6 C6.4,4.6 7.8,6.3 7.8,8.8 C7.8,11.3 6.4,13 3.9,13 C1.4,13 0,11.3 0,8.8 C0,6.3 1.4,4.6 3.9,4.6 Z" transform="translate(509.50,739.50) scale(1.0769)" vector-effect="non-scaling-stroke"/>
<path d="M0,0 L0,13" transform="translate(522.50,739.50) scale(1.0769)" vector-effect="non-scaling-stroke"/>
<path d="M0.1,8.8 L8.1,8.8 C8.1,6.2 6.6,4.6 4.1,4.6 C1.5,4.6 0,6.4 0,8.8 C0,11.3 1.5,13 4.1,13 C6,13 7.2,12.3 8,11" transform="translate(526.50,739.50) scale(1.0769)" vector-effect="non-scaling-stroke"/>
<rect x="287" y="759" width="249" height="1" class="f"/>
<line x1="535.50" y1="759.50" x2="596.50" y2="818.50" stroke-width="1" />
<polygon points="596.50,818.50 587.20,812.29 589.98,809.41" fill="#000" stroke="#000" stroke-width="1" stroke-linejoin="miter"/>
<rect x="552" y="750" width="111" height="1" class="f"/>
<rect x="564" y="748" width="3" height="5" class="f"/>
<rect x="567" y="749" width="6" height="3" class="f"/>
<rect x="612" y="748" width="3" height="5" class="f"/>
<rect x="606" y="749" width="6" height="3" class="f"/>
<path d="M0,0 L9,0 L2.8,13" transform="translate(629.50,733.50) scale(1.0000)" vector-effect="non-scaling-stroke"/>
<path d="M0.5,12 L2.5,12 L1.5,13 Z" transform="translate(641.50,733.50) scale(1.0000)" fill="#000" vector-effect="non-scaling-stroke"/>
<path d="M1.8,0 L9,0 L5,4.7 L6.3,4.7 C8.2,4.7 9,6 9,8 L9,9.5 C9,11.8 7.6,13 5.6,13 L4,13 C2.2,13 1,12.3 0.2,11" transform="translate(648.50,733.50) scale(1.0000)" vector-effect="non-scaling-stroke"/>
<rect x="575" y="746" width="1" height="63" class="f"/>
<rect x="603" y="746" width="1" height="64" class="f"/>
<rect x="584" y="807" width="95" height="1" class="f"/>
<line x1="575.50" y1="811.50" x2="583.50" y2="807.50" stroke-width="1" />
<line x1="582.50" y1="810.50" x2="585.50" y2="808.50" stroke-width="1" />
<line x1="585.50" y1="808.50" x2="587.50" y2="810.50" stroke-width="1" />
<line x1="678.50" y1="807.50" x2="685.50" y2="811.50" stroke-width="1" />
<line x1="675.50" y1="808.50" x2="677.50" y2="810.50" stroke-width="1" />
<line x1="679.50" y1="808.50" x2="682.50" y2="810.50" stroke-width="1" />
<rect x="575" y="811" width="111" height="2" class="f"/>
<rect x="575" y="812" width="1" height="42" class="f"/>
<rect x="580" y="812" width="1" height="42" class="f"/>
<rect x="582" y="812" width="1" height="42" class="f"/>
<line x1="685.50" y1="812.50" x2="687.50" y2="853.50" stroke-width="1" />
<line x1="677.50" y1="813.50" x2="680.50" y2="852.50" stroke-width="1" />
<line x1="679.50" y1="813.50" x2="681.50" y2="852.50" stroke-width="1" />
<rect x="575" y="853" width="113" height="1" class="f"/>
<circle cx="603.5" cy="825.5" r="9.9" stroke-width="1.6" />
<circle cx="603.5" cy="825.5" r="4.3" stroke-width="2.3" />
<rect x="591" y="825" width="8" height="1" class="f"/>
<rect x="608" y="825" width="8" height="1" class="f"/>
<rect x="603" y="814" width="1" height="7" class="f"/>
<rect x="603" y="830" width="1" height="8" class="f"/>
<rect x="601" y="825" width="5" height="1" class="f"/>
<rect x="603" y="823" width="1" height="5" class="f"/>
<rect x="626.5" y="853.5" width="5" height="4" fill="none" stroke-width="1"/>
<rect x="629" y="846" width="1" height="19" class="f"/>
<rect x="629" y="867" width="1" height="85" class="f"/>
<rect x="476" y="825" width="112" height="1" class="f"/>
<rect x="476" y="853" width="97" height="1" class="f"/>
<rect x="514" y="857" width="110" height="1" class="f"/>
<rect x="480" y="802" width="1" height="110" class="f"/>
<rect x="478" y="814" width="5" height="3" class="f"/>
<rect x="479" y="817" width="3" height="6" class="f"/>
<rect x="478" y="862" width="5" height="3" class="f"/>
<rect x="479" y="856" width="3" height="6" class="f"/>
<path d="M0,0 L9,0 L2.8,13" transform="translate(463.50,908.50) rotate(-90) scale(1.0000)" vector-effect="non-scaling-stroke"/>
<path d="M0.5,12 L2.5,12 L1.5,13 Z" transform="translate(463.50,895.50) rotate(-90) scale(1.0000)" fill="#000" vector-effect="non-scaling-stroke"/>
<path d="M1.8,0 L9,0 L5,4.7 L6.3,4.7 C8.2,4.7 9,6 9,8 L9,9.5 C9,11.8 7.6,13 5.6,13 L4,13 C2.2,13 1,12.3 0.2,11" transform="translate(463.50,889.50) rotate(-90) scale(1.0000)" vector-effect="non-scaling-stroke"/>
<rect x="518" y="830" width="1" height="85" class="f"/>
<rect x="516" y="842" width="5" height="3" class="f"/>
<rect x="517" y="845" width="3" height="6" class="f"/>
<rect x="516" y="866" width="5" height="3" class="f"/>
<rect x="517" y="860" width="3" height="6" class="f"/>
<path d="M2,2.2 L5,0 L5,13" transform="translate(501.50,912.50) rotate(-90) scale(1.0000)" vector-effect="non-scaling-stroke"/>
<path d="M0.5,12 L2.5,12 L1.5,13 Z" transform="translate(501.50,899.50) rotate(-90) scale(1.0000)" fill="#000" vector-effect="non-scaling-stroke"/>
<path d="M0.6,3 C0.8,1.2 2.3,0 4.3,0 L5.2,0 C7.4,0 8.8,1.3 8.8,3.3 C8.8,4.8 8,5.8 6.6,7.2 L0.1,13 L9,13" transform="translate(501.50,893.50) rotate(-90) scale(1.0000)" vector-effect="non-scaling-stroke"/>
<rect x="626" y="860" width="1" height="54" class="f"/>
<rect x="631" y="860" width="1" height="54" class="f"/>
<rect x="603" y="910" width="88" height="1" class="f"/>
<rect x="615" y="908" width="3" height="5" class="f"/>
<rect x="618" y="909" width="6" height="3" class="f"/>
<rect x="640" y="908" width="3" height="5" class="f"/>
<rect x="634" y="909" width="6" height="3" class="f"/>
<path d="M2,2.2 L5,0 L5,13" transform="translate(657.50,893.50) scale(1.0000)" vector-effect="non-scaling-stroke"/>
<path d="M0.5,12 L2.5,12 L1.5,13 Z" transform="translate(669.50,893.50) scale(1.0000)" fill="#000" vector-effect="non-scaling-stroke"/>
<path d="M6.5,13 L6.5,0 L0,9.5 L9.2,9.5" transform="translate(676.50,893.50) scale(1.0000)" vector-effect="non-scaling-stroke"/>
<rect x="575" y="857" width="1" height="95" class="f"/>
<rect x="575" y="947" width="55" height="1" class="f"/>
<rect x="584" y="945" width="3" height="5" class="f"/>
<rect x="578" y="946" width="6" height="3" class="f"/>
<rect x="618" y="945" width="3" height="5" class="f"/>
<rect x="621" y="946" width="6" height="3" class="f"/>
<path d="M2,2.2 L5,0 L5,13" transform="translate(581.50,930.50) scale(1.0000)" vector-effect="non-scaling-stroke"/>
<path d="M6.5,13 L6.5,0 L0,9.5 L9.2,9.5" transform="translate(593.50,930.50) scale(1.0000)" vector-effect="non-scaling-stroke"/>
<path d="M0.5,12 L2.5,12 L1.5,13 Z" transform="translate(605.50,930.50) scale(1.0000)" fill="#000" vector-effect="non-scaling-stroke"/>
<path d="M0.6,3 C0.8,1.2 2.3,0 4.3,0 L5.2,0 C7.4,0 8.8,1.3 8.8,3.3 C8.8,4.8 8,5.8 6.6,7.2 L0.1,13 L9,13" transform="translate(612.50,930.50) scale(1.0000)" vector-effect="non-scaling-stroke"/>
</g>
</svg>
</body></html>
